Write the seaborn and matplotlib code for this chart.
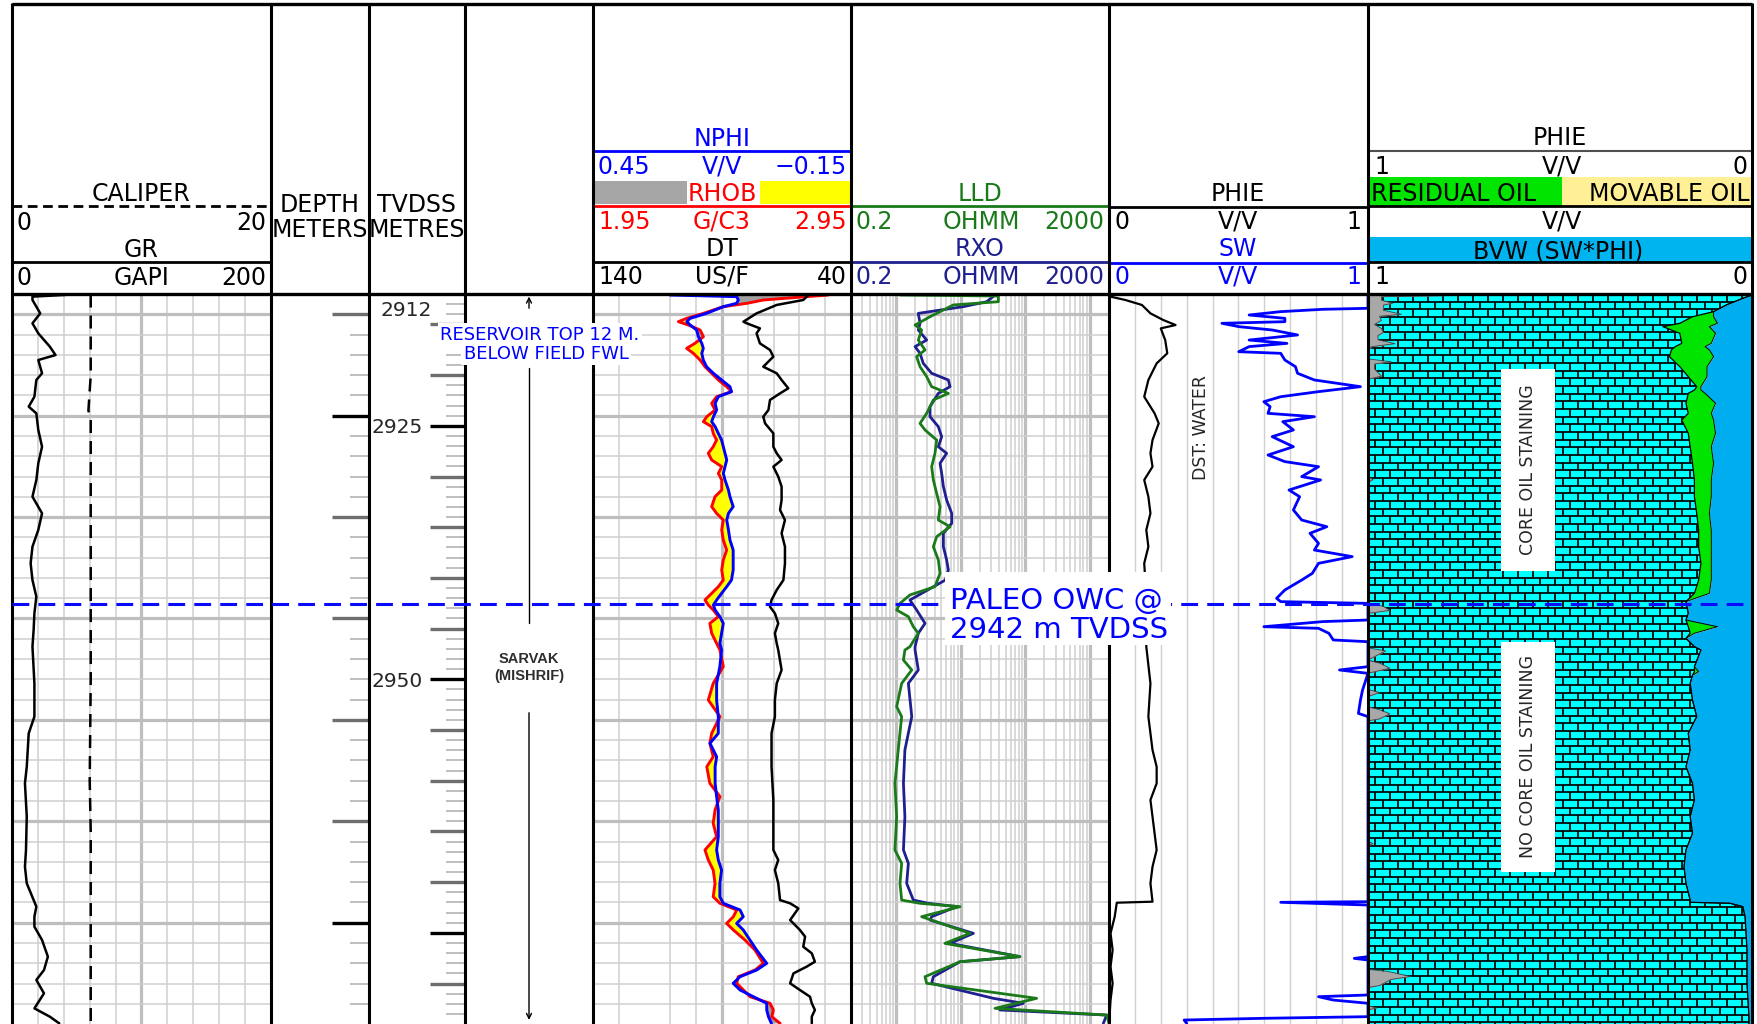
import numpy as np
import matplotlib
matplotlib.use("Agg")
import matplotlib.pyplot as plt
import matplotlib.transforms as mtransforms
from matplotlib.collections import LineCollection
from matplotlib.patches import Rectangle
from matplotlib.ticker import FixedLocator, NullLocator
import seaborn as sns

# ------------------------------------------------------------------ DATA
# depths are TVDSS (m)
gr_log = [(2912.05, 46.9), (2912.26, 15.8), (2912.59, 15.8), (2913.91, 21.8), (2914.89, 15.8),
          (2915.88, 20.3), (2917.19, 29.2), (2918.02, 33.6), (2918.51, 20.3), (2919.82, 23.2),
          (2920.48, 18.8), (2922.13, 17.3), (2923.11, 12.9), (2923.77, 18.8), (2925.41, 20.3),
          (2927.06, 23.2), (2928.70, 20.3), (2930.34, 18.8), (2931.99, 15.8), (2933.63, 23.2),
          (2935.27, 20.3), (2936.92, 15.8), (2938.56, 14.4), (2940.21, 15.8), (2941.85, 18.8),
          (2943.49, 17.3), (2945.14, 16.7), (2946.78, 15.8), (2950.40, 17.3), (2953.68, 17.3),
          (2955.33, 12.9), (2958.62, 11.4), (2960.26, 10.0), (2963.55, 11.4), (2966.83, 10.8),
          (2968.48, 10.0), (2970.12, 11.4), (2972.42, 18.8), (2973.41, 17.3), (2974.39, 17.3),
          (2975.71, 23.2), (2977.35, 27.7), (2978.67, 24.7), (2979.65, 18.8), (2980.97, 24.7),
          (2982.45, 17.3), (2983.27, 29.2), (2983.93, 36.5)]

cali_log = [(2912.05, 6.08), (2920.0, 6.08), (2923.5, 5.9), (2924.2, 6.08), (2950.0, 6.08),
            (2960.0, 6.0), (2965.0, 6.08), (2984.0, 6.08)]

# depth, NPHI (v/v), RHOB (g/cc)
den_log = [(2912.10, 0.271, 2.862), (2912.26, 0.116, 2.778), (2912.59, 0.112, 2.610),
           (2912.92, 0.116, 2.546), (2913.25, 0.147, 2.455), (2913.91, 0.186, 2.378),
           (2914.40, 0.224, 2.313), (2914.73, 0.232, 2.281), (2915.06, 0.224, 2.320),
           (2915.55, 0.209, 2.365), (2916.21, 0.205, 2.378), (2916.87, 0.197, 2.345),
           (2917.36, 0.1935, 2.313), (2917.85, 0.197, 2.339), (2918.51, 0.1935, 2.365),
           (2919.17, 0.186, 2.384), (2919.82, 0.170, 2.410), (2920.48, 0.151, 2.436),
           (2921.14, 0.1315, 2.468), (2921.63, 0.128, 2.487), (2922.13, 0.1586, 2.429),
           (2922.78, 0.166, 2.410), (2923.44, 0.1625, 2.423), (2924.10, 0.170, 2.391),
           (2924.59, 0.174, 2.378), (2925.08, 0.166, 2.410), (2925.74, 0.1586, 2.416),
           (2926.40, 0.151, 2.429), (2927.06, 0.147, 2.416), (2927.71, 0.143, 2.397),
           (2928.37, 0.139, 2.410), (2929.03, 0.143, 2.449), (2929.69, 0.147, 2.436),
           (2930.34, 0.143, 2.449), (2931.33, 0.135, 2.449), (2931.99, 0.1315, 2.423),
           (2932.97, 0.124, 2.410), (2933.63, 0.135, 2.429), (2934.29, 0.139, 2.455),
           (2935.27, 0.135, 2.449), (2936.26, 0.1315, 2.455), (2937.25, 0.124, 2.468),
           (2938.23, 0.124, 2.455), (2939.22, 0.124, 2.449), (2940.21, 0.128, 2.455),
           (2940.86, 0.139, 2.436), (2941.52, 0.151, 2.410), (2942.18, 0.1625, 2.384),
           (2942.67, 0.170, 2.397), (2943.16, 0.166, 2.416), (2943.82, 0.155, 2.436),
           (2944.48, 0.147, 2.403), (2945.46, 0.151, 2.410), (2946.45, 0.155, 2.429),
           (2947.11, 0.151, 2.442), (2948.75, 0.155, 2.455), (2950.40, 0.1625, 2.416),
           (2952.04, 0.1625, 2.397), (2953.68, 0.1586, 2.442), (2955.33, 0.1586, 2.410),
           (2956.31, 0.178, 2.403), (2957.63, 0.1625, 2.416), (2958.62, 0.166, 2.391),
           (2960.26, 0.166, 2.403), (2961.57, 0.1625, 2.442), (2962.89, 0.1586, 2.423),
           (2964.20, 0.1586, 2.416), (2965.52, 0.1586, 2.429), (2966.83, 0.1625, 2.384),
           (2967.82, 0.1586, 2.397), (2968.81, 0.151, 2.416), (2970.12, 0.155, 2.423),
           (2971.44, 0.155, 2.416), (2972.09, 0.147, 2.442), (2972.75, 0.108, 2.507),
           (2973.41, 0.1005, 2.494), (2974.07, 0.116, 2.468), (2974.72, 0.1005, 2.494),
           (2975.71, 0.085, 2.539), (2976.70, 0.0695, 2.578), (2978.01, 0.046, 2.610),
           (2978.67, 0.0695, 2.578), (2979.33, 0.108, 2.513), (2979.98, 0.124, 2.507),
           (2980.64, 0.108, 2.533), (2981.30, 0.077, 2.559), (2981.95, 0.046, 2.636),
           (2982.61, 0.046, 2.649), (2983.27, 0.042, 2.643), (2983.93, 0.035, 2.675)]

dt_log = [(2912.10, 56.5), (2912.59, 58.5), (2913.08, 68.8), (2913.91, 76.6), (2914.73, 81.7),
          (2914.89, 80.4), (2915.39, 75.3), (2915.88, 76.6), (2916.87, 75.3), (2917.52, 71.4),
          (2918.18, 70.1), (2919.17, 74.0), (2919.82, 68.8), (2920.48, 66.9), (2921.30, 64.3),
          (2921.80, 67.5), (2922.45, 71.4), (2923.44, 72.0), (2924.10, 74.0), (2924.76, 73.3),
          (2925.74, 70.1), (2927.06, 70.1), (2927.71, 68.8), (2928.37, 66.9), (2929.03, 70.1),
          (2930.01, 68.2), (2931.00, 66.9), (2932.32, 66.9), (2933.30, 67.5), (2934.29, 65.6),
          (2935.60, 66.9), (2936.92, 65.6), (2938.56, 65.6), (2940.21, 66.2), (2941.19, 68.8),
          (2942.18, 70.8), (2942.84, 71.4), (2943.49, 69.5), (2944.48, 68.2), (2945.46, 69.5),
          (2946.45, 68.8), (2947.11, 68.2), (2949.08, 66.9), (2950.40, 68.8), (2952.04, 69.5),
          (2953.68, 69.5), (2955.33, 70.8), (2958.62, 70.8), (2961.90, 70.1), (2965.19, 70.1),
          (2966.83, 70.1), (2967.82, 68.2), (2968.81, 69.5), (2970.12, 68.2), (2971.77, 67.5),
          (2972.09, 63.6), (2972.59, 60.4), (2973.74, 63.6), (2974.72, 59.8), (2975.38, 57.8),
          (2976.37, 58.5), (2977.02, 55.2), (2977.85, 54.0), (2978.34, 57.2), (2979.00, 62.3),
          (2979.98, 63.6), (2980.64, 59.8), (2981.30, 55.9), (2981.95, 55.2), (2982.61, 54.0),
          (2983.27, 55.2), (2983.93, 55.2)]

lld_log = [(2912.10, 1.15), (2912.20, 38.5), (2912.76, 38.5), (2913.08, 7.72), (2914.24, 3.36),
           (2915.06, 1.97), (2915.55, 2.49), (2916.54, 2.21), (2917.52, 2.81), (2918.18, 2.08),
           (2919.17, 2.35), (2920.15, 2.98), (2921.14, 3.56), (2921.80, 6.46), (2922.45, 3.78),
           (2923.77, 2.98), (2924.76, 2.35), (2925.41, 2.81), (2926.40, 4.26), (2927.71, 4.01),
           (2929.03, 3.56), (2930.34, 3.78), (2931.66, 4.26), (2932.97, 4.80), (2934.29, 4.52),
           (2934.95, 6.86), (2935.93, 4.26), (2936.92, 3.78), (2938.23, 4.52), (2939.55, 4.80),
           (2940.86, 4.01), (2941.68, 1.64), (2942.51, 1.15), (2943.16, 1.02), (2943.82, 1.55),
           (2944.81, 1.85), (2945.46, 2.21), (2946.78, 1.64), (2947.11, 1.37), (2948.10, 1.30),
           (2949.08, 1.75), (2950.40, 1.22), (2952.70, 1.02), (2953.68, 1.22), (2956.97, 1.08),
           (2960.26, 0.96), (2963.55, 1.02), (2966.83, 0.96), (2968.15, 1.22), (2970.12, 1.15),
           (2971.77, 1.22), (2972.09, 2.35), (2972.42, 9.80), (2973.41, 2.49), (2975.05, 14.0),
           (2976.04, 5.73), (2977.35, 83.0), (2977.85, 9.80), (2979.33, 2.81), (2979.98, 2.98),
           (2981.46, 151.0), (2982.45, 34.2), (2983.11, 1841.0), (2983.93, 2000.0)]

rxo_log = [(2912.10, 34.2), (2912.76, 25.4), (2913.25, 11.0), (2913.91, 2.21), (2914.89, 2.35),
           (2915.55, 2.21), (2916.54, 2.98), (2917.19, 1.97), (2917.85, 2.35), (2918.84, 2.64),
           (2919.82, 3.56), (2920.48, 6.46), (2921.14, 6.86), (2921.80, 4.52), (2923.11, 3.36),
           (2924.10, 3.36), (2925.08, 4.52), (2926.07, 5.09), (2927.06, 4.52), (2927.71, 6.08),
           (2928.70, 4.80), (2929.69, 5.09), (2931.00, 5.41), (2932.32, 6.08), (2933.63, 7.28),
           (2934.62, 7.28), (2935.60, 5.41), (2936.92, 5.41), (2938.23, 6.08), (2939.22, 6.46),
           (2940.21, 5.80), (2941.52, 2.50), (2942.18, 1.64), (2943.16, 2.08), (2944.48, 2.81),
           (2945.46, 2.21), (2946.78, 1.97), (2947.11, 1.97), (2949.08, 2.21), (2950.40, 1.55),
           (2953.68, 1.75), (2956.97, 1.37), (2960.26, 1.30), (2963.55, 1.37), (2966.83, 1.30),
           (2968.15, 1.55), (2970.12, 1.46), (2971.77, 1.85), (2972.09, 3.16), (2972.42, 8.69),
           (2973.41, 3.56), (2973.74, 3.36), (2975.05, 15.8), (2976.04, 6.86), (2977.35, 83.0),
           (2977.85, 9.80), (2979.33, 3.78), (2979.98, 3.56), (2981.46, 32.2), (2981.95, 94.0),
           (2982.61, 40.8), (2983.11, 1841.0), (2983.93, 1634.0)]

phie_log = [(2912.10, 0.006), (2912.26, 0.006), (2912.59, 0.063), (2913.08, 0.127), (2913.91, 0.160),
            (2914.56, 0.209), (2915.06, 0.257), (2915.39, 0.200), (2916.54, 0.217), (2917.85, 0.225),
            (2918.84, 0.184), (2920.48, 0.152), (2922.13, 0.136), (2923.77, 0.176), (2924.76, 0.192),
            (2926.40, 0.168), (2927.71, 0.160), (2929.03, 0.168), (2930.34, 0.136), (2931.99, 0.152),
            (2933.63, 0.160), (2935.27, 0.144), (2936.92, 0.152), (2938.56, 0.136), (2940.21, 0.140),
            (2943.49, 0.140), (2946.78, 0.144), (2950.40, 0.160), (2953.68, 0.152), (2956.97, 0.168),
            (2958.62, 0.184), (2960.26, 0.184), (2961.90, 0.160), (2963.55, 0.168), (2965.19, 0.176),
            (2966.83, 0.184), (2968.48, 0.168), (2970.12, 0.160), (2971.93, 0.168), (2972.03, 0.030),
            (2973.41, 0.022), (2975.05, 0.006), (2976.70, 0.014), (2978.34, 0.006), (2979.98, 0.014),
            (2981.63, 0.006), (2983.27, 0.002), (2983.93, 0.002)]

sw_log = [(2912.10, 1.0), (2913.41, 1.0), (2913.51, 0.825), (2913.74, 0.663), (2914.07, 0.541),
          (2914.40, 0.679), (2914.73, 0.679), (2914.89, 0.436), (2915.22, 0.501), (2915.55, 0.630),
          (2916.04, 0.728), (2916.54, 0.541), (2916.87, 0.687), (2917.19, 0.541), (2917.69, 0.501),
          (2917.85, 0.663), (2918.51, 0.679), (2919.17, 0.720), (2919.82, 0.728), (2920.48, 0.793),
          (2921.14, 0.971), (2921.63, 0.809), (2922.13, 0.663), (2922.62, 0.598), (2923.11, 0.622),
          (2923.77, 0.614), (2924.10, 0.793), (2924.59, 0.671), (2925.41, 0.712), (2926.07, 0.630),
          (2927.06, 0.712), (2927.88, 0.614), (2928.53, 0.679), (2929.03, 0.809), (2930.01, 0.744),
          (2930.34, 0.817), (2931.33, 0.695), (2931.99, 0.736), (2933.30, 0.712), (2934.29, 0.744),
          (2934.95, 0.841), (2935.60, 0.776), (2936.59, 0.809), (2937.25, 0.793), (2937.90, 0.939),
          (2938.56, 0.809), (2939.55, 0.785), (2940.21, 0.744), (2941.19, 0.679), (2942.01, 0.647),
          (2942.34, 0.663), (2942.51, 1.0), (2944.15, 1.0), (2944.31, 0.825), (2944.81, 0.598),
          (2944.97, 0.809), (2945.46, 0.849), (2946.12, 0.866), (2946.29, 1.0), (2948.75, 1.0),
          (2949.08, 0.890), (2949.41, 1.0), (2951.05, 0.979), (2952.04, 0.971), (2953.36, 0.963),
          (2953.68, 1.0), (2971.93, 1.0), (2971.99, 0.663), (2972.26, 1.0), (2977.35, 1.0),
          (2977.52, 0.947), (2977.68, 1.0), (2981.13, 1.0), (2981.30, 0.809), (2981.63, 0.866),
          (2981.95, 1.0), (2983.27, 1.0), (2983.43, 0.598), (2983.60, 0.290), (2983.93, 0.300)]

# depth, PHIE (v/v), BVW (v/v) as drawn in the lithology track
lith_log = [(2912.00, 0.0, 0.0), (2912.10, 0.0, 0.0), (2912.43, 0.024, 0.024), (2913.08, 0.067, 0.067),
            (2913.74, 0.100, 0.100), (2914.24, 0.155, 0.100), (2914.89, 0.188, 0.090),
            (2915.22, 0.232, 0.111), (2915.88, 0.188, 0.095), (2916.87, 0.183, 0.106),
            (2917.19, 0.200, 0.122), (2917.52, 0.210, 0.111), (2918.18, 0.215, 0.100),
            (2919.17, 0.188, 0.117), (2920.15, 0.166, 0.117), (2921.14, 0.144, 0.133),
            (2921.47, 0.150, 0.133), (2921.80, 0.166, 0.122), (2922.78, 0.172, 0.095),
            (2923.77, 0.166, 0.106), (2924.43, 0.183, 0.100), (2925.74, 0.166, 0.095),
            (2927.06, 0.161, 0.106), (2928.70, 0.155, 0.100), (2930.34, 0.150, 0.106),
            (2931.99, 0.150, 0.106), (2933.63, 0.144, 0.111), (2935.27, 0.139, 0.106),
            (2936.92, 0.139, 0.106), (2938.56, 0.133, 0.106), (2940.21, 0.139, 0.106),
            (2941.52, 0.150, 0.111), (2942.34, 0.172, 0.172), (2943.49, 0.166, 0.166),
            (2944.15, 0.172, 0.172), (2944.81, 0.166, 0.090), (2945.46, 0.161, 0.150),
            (2945.96, 0.172, 0.172), (2946.78, 0.150, 0.150), (2947.11, 0.133, 0.133),
            (2948.75, 0.150, 0.150), (2949.25, 0.150, 0.139), (2949.60, 0.155, 0.155),
            (2950.40, 0.161, 0.161), (2952.04, 0.155, 0.155), (2953.68, 0.144, 0.144),
            (2955.33, 0.166, 0.166), (2956.97, 0.161, 0.161), (2958.62, 0.172, 0.172),
            (2960.26, 0.155, 0.155), (2961.90, 0.150, 0.150), (2963.55, 0.161, 0.161),
            (2965.19, 0.155, 0.155), (2966.83, 0.172, 0.172), (2968.48, 0.177, 0.177),
            (2970.12, 0.172, 0.172), (2971.77, 0.161, 0.161), (2971.99, 0.161, 0.161),
            (2972.09, 0.057, 0.057), (2972.42, 0.024, 0.024), (2973.41, 0.018, 0.018),
            (2976.70, 0.013, 0.013), (2979.98, 0.013, 0.013), (2983.27, 0.008, 0.008),
            (2984.00, 0.008, 0.008)]

vsh_log = [(2912.00, 0.22), (2912.15, 0.22), (2912.27, 0.035), (2912.60, 0.035), (2912.90, 0.065),
           (2913.10, 0.040), (2913.60, 0.040), (2914.00, 0.087), (2914.20, 0.030), (2914.60, 0.035),
           (2915.00, 0.017), (2915.40, 0.035), (2915.80, 0.040), (2916.10, 0.026), (2916.50, 0.026),
           (2916.90, 0.070), (2917.20, 0.009), (2917.60, 0.0), (2918.40, 0.0), (2918.68, 0.060),
           (2918.90, 0.017), (2919.40, 0.017), (2920.10, 0.035), (2920.40, 0.0), (2930.00, 0.0),
           (2930.30, 0.013), (2930.60, 0.0), (2942.50, 0.0), (2942.80, 0.040), (2943.20, 0.057),
           (2943.50, 0.0), (2946.90, 0.0), (2947.20, 0.046), (2947.70, 0.020), (2948.10, 0.0),
           (2948.40, 0.030), (2948.90, 0.057), (2949.40, 0.0), (2951.00, 0.0), (2951.30, 0.030),
           (2951.70, 0.0), (2952.70, 0.0), (2953.00, 0.030), (2953.40, 0.057), (2953.90, 0.030),
           (2954.10, 0.0), (2966.00, 0.0), (2966.20, 0.013), (2966.40, 0.0), (2978.60, 0.0),
           (2978.80, 0.050), (2979.30, 0.112), (2979.60, 0.060), (2980.20, 0.030), (2980.40, 0.0),
           (2982.20, 0.0), (2982.40, 0.024), (2982.60, 0.0), (2984.00, 0.0)]

tvd_labels = [2925, 2950]
top_label = 2912
owc_depth = 2942.6
md_offset = 26.0            # MD = TVDSS + md_offset
zone_top = 2912.0
zone_name = "SARVAK\n(MISHRIF)"
reservoir_note = ["RESERVOIR TOP 12 M.", "BELOW FIELD FWL"]
owc_note = ["PALEO OWC @", "2942 m TVDSS"]
core_notes = [("CORE OIL STAINING", 2919.4, 2939.3), ("NO CORE OIL STAINING", 2946.3, 2969.0)]

# ------------------------------------------------------------------ SETUP
sns.set_style("white")
plt.rcParams['font.family'] = ['DejaVu Sans']

W, H = 1758, 1024
HEAD = 294
PXM = 10.14
D0 = 2912.0
D1 = D0 + (H - HEAD) / PXM
PT = 100 / 72.0

BLUE = '#0000FF'; RED = '#FF0000'; GREEN = '#1A7A1A'; NAVY = '#1F1F8F'
CYAN = '#00FFFF'; OILG = '#00E400'; MOVY = '#FFF096'; BVWB = '#00AEEF'

fig = plt.figure(figsize=(W / 100, H / 100), dpi=100)


def track_axes(x0, x1, transparent=False):
    a = fig.add_axes([x0 / W, 0, (x1 - x0) / W, (H - HEAD) / H])
    if transparent:
        a.patch.set_visible(False)
    return a


def finish(a, xlim, ylim=(D1, D0)):
    a.set_xlim(*xlim)
    a.set_ylim(*ylim)
    a.set_xlabel('')
    a.set_ylabel('')
    for s in a.spines.values():
        s.set_visible(False)
    a.tick_params(which='both', length=0, labelbottom=False, labelleft=False,
                  labeltop=False, labelright=False)


def depth_grid(a, xmajor, xminor):
    a.xaxis.set_major_locator(FixedLocator(xmajor))
    a.xaxis.set_minor_locator(FixedLocator(xminor))
    a.yaxis.set_major_locator(FixedLocator(np.arange(2914, 2985, 10)))
    a.yaxis.set_minor_locator(FixedLocator(np.arange(2912, 2985, 2)))
    a.grid(which='major', color='#BEBEBE', lw=2.3)
    a.grid(which='minor', color='#CFCFCF', lw=1.1)
    a.set_axisbelow(True)


def curve(a, x, y, color, lw, **kw):
    sns.lineplot(x=x, y=y, ax=a, sort=False, estimator=None, color=color, lw=lw, **kw)
    return a.lines[-1]


def col(log, i):
    return np.array([r[i] for r in log], dtype=float)


# ------------------------------------------------------------------ TRACK 1: GR / CALIPER
a1 = track_axes(12, 271)
curve(a1, col(gr_log, 1), col(gr_log, 0), 'black', 1.8)
finish(a1, (0, 200))
depth_grid(a1, [100], [20, 40, 60, 80, 120, 140, 160, 180])

a1c = track_axes(12, 271, transparent=True)
ln = curve(a1c, col(cali_log, 1), col(cali_log, 0), 'black', 1.8)
ln.set_dashes((5.2, 3.2))
finish(a1c, (0, 20))

# ------------------------------------------------------------------ TRACK 2: MD depth
a2 = track_axes(271, 369)
md_top, md_bot = D0 + md_offset, D1 + md_offset
md = np.arange(np.ceil(md_top / 2) * 2, md_bot, 2)
small = [m for m in md if m % 10 != 0]
ten = [m for m in md if m % 10 == 0 and m % 50 != 0]
fifty = [m for m in md if m % 50 == 0]
a2.hlines(small, 0.806, 1, color='#B4B4B4', lw=1.2)
a2.hlines(ten, 0.622, 1, color='#6E6E6E', lw=2.4)
a2.hlines(fifty, 0.622, 1, color='black', lw=2.4)
finish(a2, (0, 1), (md_bot, md_top))

# ------------------------------------------------------------------ TRACK 3: TVDSS
a3 = track_axes(369, 465)
tv = np.arange(np.ceil(D0), D1, 1)
a3.hlines([t for t in tv if t % 5 != 0 and t > D0], 0.802, 1, color='#B4B4B4', lw=1.2)
a3.hlines([t for t in tv if t % 5 == 0 and t % 25 != 0], 0.635, 1, color='#6E6E6E', lw=2.4)
a3.hlines([t for t in tv if t % 25 == 0], 0.635, 1, color='black', lw=2.4)
lab_off = 0.729 * 14.5 * PT / 2 / PXM
for t in tvd_labels:
    a3.text(0.5625, t + lab_off, str(t), ha='right', va='baseline', fontsize=14.5)
a3.text(0.656, top_label + 15.0 / PXM + lab_off, str(top_label), ha='right', va='baseline', fontsize=14.5)
finish(a3, (0, 1))

# ------------------------------------------------------------------ TRACK 4: zone
a4 = track_axes(465, 593)
arr = dict(arrowstyle='->', color='black', lw=1.0, shrinkA=0, shrinkB=0, mutation_scale=9)
a4.annotate('', xy=(0.5, zone_top + 0.25), xytext=(0.5, zone_top + 1.4), arrowprops=arr)
a4.plot([0.5, 0.5], [zone_top + 7.3, zone_top + 32.4], color='black', lw=1.0)
a4.annotate('', xy=(0.5, D1 - 0.4), xytext=(0.5, zone_top + 41.3), arrowprops=arr)
a4.text(0.5, zone_top + 36.8, zone_name, ha='center', va='center', fontsize=10.5,
        family=['Liberation Sans', 'DejaVu Sans'], fontweight='bold', color='#2E2E2E',
        linespacing=1.25)
finish(a4, (0, 1))

# ------------------------------------------------------------------ TRACK 5: density / neutron / sonic
den_d = col(den_log, 0)
nphi = col(den_log, 1)
rhob = col(den_log, 2)
nphi_on_rhob = 1.95 + (0.45 - nphi) / 0.6 * 1.0
a5 = track_axes(593, 851)
a5.fill_betweenx(den_d, rhob, nphi_on_rhob, where=rhob < nphi_on_rhob, interpolate=True,
                 color='#FFFF00', lw=0, zorder=1.2)
a5.fill_betweenx(den_d, rhob, nphi_on_rhob, where=rhob > nphi_on_rhob, interpolate=True,
                 color='#A0A0A0', lw=0, zorder=1.2)
curve(a5, rhob, den_d, RED, 2.1)
finish(a5, (1.95, 2.95))
depth_grid(a5, [2.45], [2.05, 2.25, 2.35, 2.55, 2.65, 2.75, 2.85])

a5n = track_axes(593, 851, transparent=True)
curve(a5n, nphi, den_d, BLUE, 2.1)
finish(a5n, (0.45, -0.15))

a5t = track_axes(593, 851, transparent=True)
curve(a5t, col(dt_log, 1), col(dt_log, 0), 'black', 1.8)
finish(a5t, (140, 40))

# ------------------------------------------------------------------ TRACK 6: resistivity
a6 = track_axes(851, 1109)
a6.set_xscale('log')
curve(a6, col(rxo_log, 1), col(rxo_log, 0), NAVY, 2.0)
curve(a6, col(lld_log, 1), col(lld_log, 0), GREEN, 2.0)
finish(a6, (0.2, 2000))
minors = [m * 10.0 ** e for e in range(-1, 4) for m in range(2, 10) if 0.2 < m * 10.0 ** e < 2000]
depth_grid(a6, [1, 10, 100, 1000], minors)

# ------------------------------------------------------------------ TRACK 7: PHIE / SW
a7 = track_axes(1109, 1368)
curve(a7, col(phie_log, 1), col(phie_log, 0), 'black', 1.6)
curve(a7, col(sw_log, 1), col(sw_log, 0), BLUE, 2.0)
finish(a7, (0, 1))
a7.xaxis.set_major_locator(NullLocator())
a7.xaxis.set_minor_locator(FixedLocator(np.arange(0.1, 0.95, 0.1)))
a7.yaxis.set_major_locator(NullLocator())
a7.yaxis.set_minor_locator(NullLocator())
a7.grid(which='minor', axis='x', color='#D0D0D0', lw=1.0)
a7.set_axisbelow(True)
a7.text(0.355, 2925.2, 'DST: WATER', rotation=90, ha='center', va='center', fontsize=12.5)

# ------------------------------------------------------------------ TRACK 8: lithology / fluids
lith_d = col(lith_log, 0)
lphie = col(lith_log, 1)
bvw = col(lith_log, 2)
a8 = track_axes(1368, 1752)
cy = a8.fill_betweenx(lith_d, 1.0, lphie, color=CYAN, lw=0, zorder=1.0)
# limestone brick pattern clipped to the matrix area
segs = []
row_h, bw = 0.756, 0.039
y, i = D0, 0
while y < D1 + row_h:
    segs.append([(0, y), (1, y)])
    x = 1.0 - (i % 2) * bw / 2
    while x > 0:
        segs.append([(x, y), (x, y + row_h)])
        x -= bw
    y += row_h
    i += 1
lc = LineCollection(segs, colors='black', linewidths=1.25, zorder=1.5)
a8.add_collection(lc, autolim=False)
lc.set_clip_path(cy.get_paths()[0], a8.transData)

vsh_d = col(vsh_log, 0)
vsh = col(vsh_log, 1)
a8.fill_betweenx(vsh_d, 1.0, 1.0 - vsh, color='#A8A8A8', lw=0, zorder=2)
a8.plot(1.0 - vsh, vsh_d, color='#404040', lw=0.6, zorder=2.1)
a8.fill_betweenx(lith_d, lphie, bvw, where=lphie > bvw, interpolate=True, color=OILG, lw=0, zorder=2)
a8.fill_betweenx(lith_d, bvw, 0.0, color=BVWB, lw=0, zorder=2)
curve(a8, lphie, lith_d, 'black', 0.9, zorder=3)
curve(a8, bvw, lith_d, 'black', 0.7, zorder=3)
for txt, d_a, d_b in core_notes:
    a8.add_patch(Rectangle((0.513, d_a), 0.141, d_b - d_a, fc='white', ec='none', zorder=4))
    a8.text(0.583, (d_a + d_b) / 2, txt, rotation=90, ha='center', va='center', fontsize=12.5, zorder=5)
finish(a8, (1, 0))

# ------------------------------------------------------------------ OVERLAY: frame, header, notes
ov = fig.add_axes([0, 0, 1, 1], zorder=10)
ov.set_autoscale_on(False)
ov.set_xlim(0, W)
ov.set_ylim(H, 0)
ov.axis('off')


def hl(y, x0, x1, color='black', lw=2.0, **kw):
    ov.plot([x0, x1], [y, y], color=color, lw=lw, solid_capstyle='butt', **kw)


def ht(x, yc, s, ha='center', color='black', size=17, **kw):
    ov.text(x, yc + 0.729 * size * PT / 2, s, ha=ha, va='baseline', fontsize=size, color=color, **kw)


# header boxes
ov.add_patch(Rectangle((593, 181), 94, 23, fc='#A6A6A6', ec='none'))
ov.add_patch(Rectangle((760, 181), 91, 23, fc='#FFFF00', ec='none'))
ov.add_patch(Rectangle((1368, 177), 194, 29, fc=OILG, ec='none'))
ov.add_patch(Rectangle((1562, 177), 190, 29, fc=MOVY, ec='none'))
ov.add_patch(Rectangle((1368, 237), 384, 25, fc='#00B4F0', ec='none'))

# header lines
ov.plot([12, 271], [206, 206], color='black', lw=2.0, dashes=(3.5, 2.0))
hl(262, 12, 271)
hl(151, 593, 851, BLUE)
hl(206, 593, 851, RED)
hl(262, 593, 851, 'black')
hl(206, 851, 1109, GREEN)
hl(262, 851, 1109, NAVY)
hl(207, 1109, 1368, 'black')
hl(262.5, 1109, 1368, BLUE)
hl(151, 1368, 1752, '#505050', lw=1.5)
hl(206, 1368, 1752, 'black')
hl(262, 1368, 1752, 'black')

# header text
ht(141.5, 192, 'CALIPER')
ht(17, 221, '0', 'left'); ht(266, 221, '20', 'right')
ht(141.5, 248, 'GR')
ht(17, 276, '0', 'left'); ht(141.5, 276, 'GAPI'); ht(266, 276, '200', 'right')
ht(320, 203, 'DEPTH'); ht(320, 228, 'METERS')
ht(417, 203, 'TVDSS'); ht(417, 228, 'METRES')
ht(722, 137, 'NPHI', color=BLUE)
ht(598, 165, '0.45', 'left', BLUE); ht(722, 165, 'V/V', color=BLUE); ht(847, 165, '\u22120.15', 'right', BLUE)
ht(722.5, 192, 'RHOB', color=RED)
ht(598, 220, '1.95', 'left', RED); ht(722, 220, 'G/C3', color=RED); ht(847, 220, '2.95', 'right', RED)
ht(722, 247, 'DT')
ht(598, 275, '140', 'left'); ht(722, 275, 'US/F'); ht(847, 275, '40', 'right')
ht(980, 192, 'LLD', color=GREEN)
ht(856, 220, '0.2', 'left', GREEN); ht(981, 220, 'OHMM', color=GREEN); ht(1104, 220, '2000', 'right', GREEN)
ht(980, 247, 'RXO', color=NAVY)
ht(856, 275, '0.2', 'left', NAVY); ht(981, 275, 'OHMM', color=NAVY); ht(1104, 275, '2000', 'right', NAVY)
ht(1238, 192, 'PHIE')
ht(1115, 220, '0', 'left'); ht(1238, 220, 'V/V'); ht(1361, 220, '1', 'right')
ht(1238, 247, 'SW', color=BLUE)
ht(1115, 275, '0', 'left', BLUE); ht(1238, 275, 'V/V', color=BLUE); ht(1361, 275, '1', 'right', BLUE)
ht(1560, 136, 'PHIE')
ht(1374, 165, '1', 'left'); ht(1562, 165, 'V/V'); ht(1748, 165, '0', 'right')
ht(1371, 192, 'RESIDUAL OIL', 'left'); ht(1750, 192, 'MOVABLE OIL', 'right')
ht(1562, 220, 'V/V')
ht(1558, 250, 'BVW (SW*PHI)')
ht(1374, 275, '1', 'left'); ht(1748, 275, '0', 'right')

# frame and track separators
for xs in [12, 271, 369, 465, 593, 851, 1109, 1368, 1752]:
    ov.plot([xs, xs], [3, H], color='black', lw=2.2, solid_capstyle='butt')
hl(3.5, 12, 1752, lw=2.4)
hl(294, 12, 1752, lw=2.4)

# paleo OWC dashed line (depth through the TVDSS track scale)
blend = mtransforms.blended_transform_factory(ov.transData, a3.transData)
ov.plot([12, 1752], [owc_depth, owc_depth], transform=blend, color='#0A0AFF', lw=2.2,
        dashes=(5.5, 3.0), zorder=3)

# notes with white backgrounds
ht(540, 333, reservoir_note[0], color=BLUE, size=13, zorder=6,
   bbox=dict(fc='white', ec='none', pad=1.5))
ht(546, 352, reservoir_note[1], color=BLUE, size=13, zorder=6,
   bbox=dict(fc='white', ec='none', pad=1.5))
ov.add_patch(Rectangle((945, 572), 226, 73, fc='white', ec='none', zorder=5))
ht(950, 598, owc_note[0], 'left', BLUE, size=21, zorder=6)
ht(950, 627, owc_note[1], 'left', BLUE, size=21, zorder=6)

fig.savefig('out.png', dpi=100)
